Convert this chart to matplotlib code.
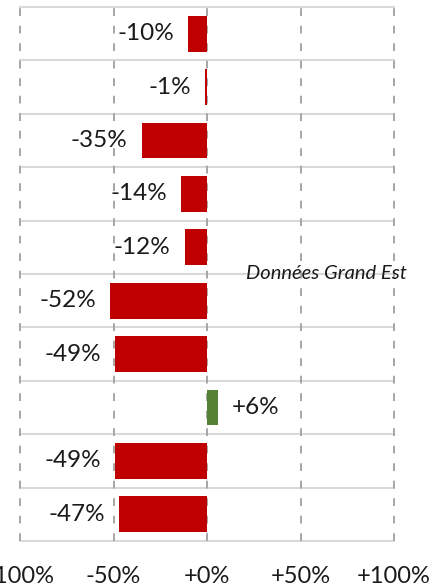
import matplotlib
matplotlib.use("Agg")
import matplotlib.pyplot as plt

# values top to bottom, in percent
values = [-10, -1, -35, -14, -12, -52, -49, 6, -49, -47]
tick_pos = [-100, -50, 0, 50, 100]
tick_labels = ["-100%", "-50%", "+0%", "+50%", "+100%"]
note = "Données Grand Est"

plt.rcParams["font.family"] = ["Lato", "DejaVu Sans"]

fig = plt.figure(figsize=(4.32, 5.86), dpi=100)
ax = fig.add_axes([20 / 432, 1 - 541 / 586, 374 / 432, 534 / 586])

ypos = list(range(len(values)))
colors = ["#C00000" if v < 0 else "#548235" for v in values]
ax.barh(ypos, values, height=0.67, color=colors, zorder=3)

# dashed vertical grid
for x in tick_pos:
    ax.axvline(x, color="#a6a6a6", lw=1.4, linestyle=(0, (4, 5)), zorder=2, clip_on=False)
# row separators
for k in range(len(values) + 1):
    ax.axhline(k - 0.5, color="#d9d9d9", lw=1.5, zorder=1, clip_on=False)

for y, v in zip(ypos, values):
    txt = "%+d%%" % v
    if v < 0:
        ax.annotate(txt, (v, y), xytext=(-10, 0), textcoords="offset points",
                    ha="right", va="center", fontsize=17.5, color="#1a1a1a", zorder=4)
    else:
        ax.annotate(txt, (v, y), xytext=(10, 0), textcoords="offset points",
                    ha="left", va="center", fontsize=17.5, color="#1a1a1a", zorder=4)

ax.text(21, 4.5, note, ha="left", va="center", fontsize=14.5, style="italic",
        color="#1a1a1a", zorder=5)

ax.set_xlim(-100, 100)
ax.set_ylim(len(values) - 0.5, -0.5)
ax.set_xticks(tick_pos)
ax.set_xticklabels(tick_labels, fontsize=17, color="#1a1a1a")
ax.set_yticks([])
ax.tick_params(axis="x", length=0, pad=18)
for s in ax.spines.values():
    s.set_visible(False)

fig.savefig("out.png", dpi=100)
